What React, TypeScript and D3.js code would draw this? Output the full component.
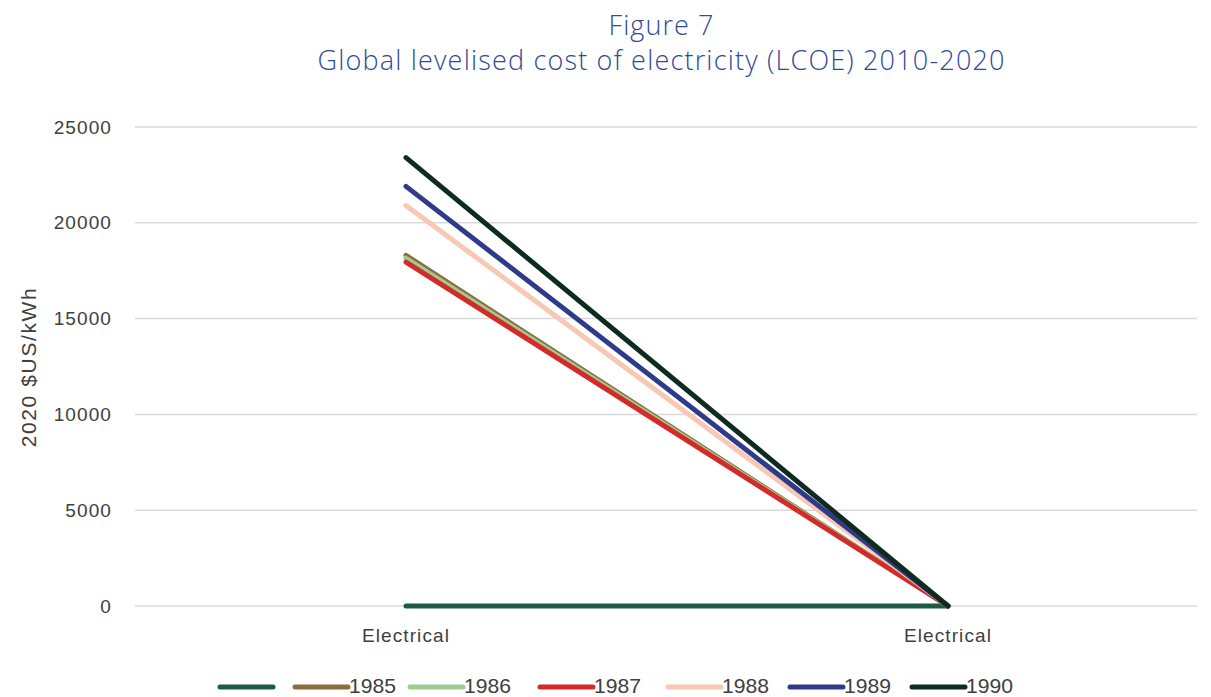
import React from "react";
import * as d3 from "d3";

const categories = ["Electrical", "Electrical"];
const seriesNames = ["", "1985", "1986", "1987", "1988", "1989", "1990"];
const seriesColors = ["#1d5a43", "#8c6d3f", "#9fcb8f", "#d42a2a", "#f7c8b3", "#2f3a8a", "#0e2b20"];
const values0 = [0, 0];
const values1985 = [18300, 0];
const values1986 = [18150, 0];
const values1987 = [17950, 0];
const values1988 = [20900, 0];
const values1989 = [21900, 0];
const values1990 = [23400, 0];
const yTicks = [0, 5000, 10000, 15000, 20000, 25000];

const allValues = [values0, values1985, values1986, values1987, values1988, values1989, values1990];

const W = 1211;
const H = 697;
const left = 135;
const gridRight = 1197;
const top = 127;
const bottom = 606;

const labelFont = "'Liberation Sans', Arial, sans-serif";
const titleFont = "'Open Sans', Lato, sans-serif";

export default function App() {
  const x = d3.scaleBand<number>().domain([0, 1]).range([left, 1219]).padding(0);
  const cx = (i: number) => (x(i) as number) + x.bandwidth() / 2;
  const y = d3.scaleLinear().domain([0, 25000]).range([bottom, top]);
  const line = d3
    .line<number>()
    .x((_, i) => cx(i))
    .y((d) => y(d));

  const legendStarts = [220, 295, 410, 540, 668, 790, 912];
  const swatchLen = 53;
  const legendY = 687;

  return (
    <svg width={W} height={H} style={{ position: "absolute", left: 0, top: 0, background: "#fff" }}>
      <text x={661} y={35} textAnchor="middle" fontFamily={titleFont} fontWeight={300} fontSize={27} fill="#2f4a9a" textLength={105}>
        Figure 7
      </text>
      <text x={661} y={70} textAnchor="middle" fontFamily={titleFont} fontWeight={300} fontSize={27} fill="#2f4a9a" textLength={687}>
        Global levelised cost of electricity (LCOE) 2010-2020
      </text>

      {yTicks.map((t) => (
        <g key={t}>
          <line x1={left} x2={gridRight} y1={y(t)} y2={y(t)} stroke="#d9d9d9" strokeWidth={1.5} />
          <text
            x={112}
            y={y(t)}
            dy="0.35em"
            textAnchor="end"
            fontFamily={labelFont}
            fontSize={19}
            letterSpacing={1.1}
            fill="#404040"
          >
            {t}
          </text>
        </g>
      ))}

      <text
        transform={`translate(36,367) rotate(-90)`}
        textAnchor="middle"
        fontFamily={labelFont}
        fontSize={21}
        letterSpacing={1.6}
        fill="#404040"
      >
        2020 $US/kWh
      </text>

      {categories.map((c, i) => (
        <text
          key={i}
          x={cx(i)}
          y={642}
          textAnchor="middle"
          fontFamily={labelFont}
          fontSize={19}
          letterSpacing={1.1}
          fill="#404040"
        >
          {c}
        </text>
      ))}

      {allValues.map((vals, s) => (
        <path
          key={s}
          d={line(vals) as string}
          fill="none"
          stroke={seriesColors[s]}
          strokeWidth={5}
          strokeLinecap="round"
          strokeLinejoin="round"
        />
      ))}

      {seriesNames.map((n, i) => (
        <g key={i}>
          <line
            x1={legendStarts[i]}
            x2={legendStarts[i] + swatchLen}
            y1={legendY}
            y2={legendY}
            stroke={seriesColors[i]}
            strokeWidth={5}
            strokeLinecap="round"
          />
          {n && (
            <text
              x={legendStarts[i] + swatchLen + 1}
              y={legendY - 1}
              dy="0.35em"
              fontFamily={labelFont}
              fontSize={21}
              textLength={47}
              lengthAdjust="spacingAndGlyphs"
              fill="#404040"
            >
              {n}
            </text>
          )}
        </g>
      ))}
    </svg>
  );
}
